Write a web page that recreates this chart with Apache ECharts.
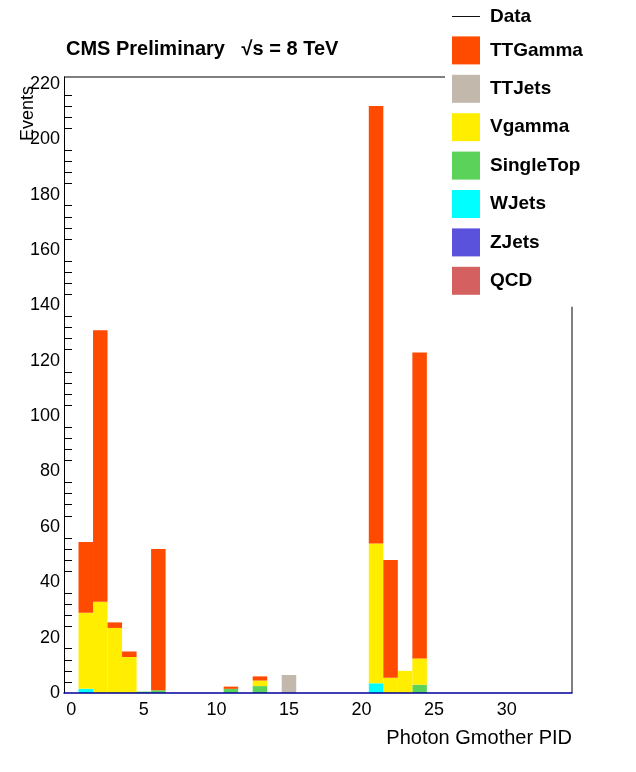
<!DOCTYPE html>
<html lang="en">
<head>
  <meta charset="UTF-8">
  <title>Photon Gmother PID</title>
  <script src="https://cdn.jsdelivr.net/npm/echarts@6/dist/echarts.min.js"></script>
  <style>
    html, body { margin: 0; padding: 0; background: #fff; }
    #chart { width: 636px; height: 772px; }
  </style>
</head>
<body>
  <div id="chart"></div>
  <script>
    // bins centred on 0..34, width 1
    const categories = Array.from({ length: 35 }, (_, i) => String(i));

    // sparse bin -> value, bottom of stack first
    const qcd       = {};
    const zjets     = {};
    const wjets     = { 1: 1.5, 21: 3.5 };
    const singleTop = { 5: 0.5, 6: 1, 11: 1.5, 13: 2.5, 24: 3 };
    const ttjets    = { 15: 6.5 };
    const vgamma    = { 1: 27.5, 2: 33, 3: 23.5, 4: 13, 13: 2, 21: 50.5, 22: 5.5, 23: 8, 24: 9.5 };
    const ttgamma   = { 1: 25.5, 2: 98, 3: 2, 4: 2, 6: 51, 11: 0.8, 13: 1.5, 21: 158, 22: 42.5, 24: 110.5 };

    const toBins = m => categories.map((_, i) => m[i] || 0);

    const stack = [
      ['QCD', qcd, '#d46060'],
      ['ZJets', zjets, '#5a52dd'],
      ['WJets', wjets, '#00ffff'],
      ['SingleTop', singleTop, '#5bd35b'],
      ['TTJets', ttjets, '#c2b8ab'],
      ['Vgamma', vgamma, '#ffee00'],
      ['TTGamma', ttgamma, '#ff4b00']
    ];

    const font = 'Liberation Sans, Arial, sans-serif';
    const chart = echarts.init(document.getElementById('chart'));

    const series = stack.map(([name, m, color]) => ({
      name, type: 'bar', stack: 'mc', data: toBins(m),
      barWidth: '100%', barCategoryGap: 0, z: 1,
      itemStyle: { color }, xAxisIndex: 0
    }));
    series.unshift({
      name: 'Data', type: 'line', data: [], symbol: 'none',
      lineStyle: { color: '#000', width: 1 }, itemStyle: { color: '#000' }
    });

    const tickLine = { color: '#000', width: 1 };

    chart.setOption({
      animation: false,
      title: {
        text: 'CMS Preliminary   \u221As = 8 TeV',
        left: 61, top: 34,
        textStyle: { fontFamily: font, fontSize: 20, fontWeight: 'bold', color: '#000' }
      },
      legend: {
        orient: 'vertical', left: 445, top: 0, z: 10,
        backgroundColor: '#fff',
        padding: [7, 50, 12, 7],
        itemWidth: 28, itemHeight: 28, itemGap: 10.4,
        data: [
          { name: 'Data', icon: 'path://M0,14 L30,14 L30,15 L0,15 Z' },
          'TTGamma', 'TTJets', 'Vgamma', 'SingleTop', 'WJets', 'ZJets', 'QCD'
        ].map(d => typeof d === 'string' ? { name: d, icon: 'rect' } : d),
        textStyle: { fontFamily: font, fontSize: 19, fontWeight: 'bold', color: '#000', padding: [0, 0, 0, 5] }
      },
      grid: { left: 64, right: 64, top: 77, bottom: 79 },
      xAxis: [
        {
          type: 'category', data: categories, z: 5,
          name: 'Photon Gmother PID', nameLocation: 'end',
          nameGap: 0,
          nameTextStyle: {
            fontFamily: font, fontSize: 20, color: '#000',
            align: 'right', verticalAlign: 'top', padding: [35, 0, 0, 0]
          },
          axisLine: { lineStyle: { color: '#000099', width: 1.5 } },
          axisTick: { inside: true, alignWithLabel: true, interval: 0, length: 9, lineStyle: tickLine },
          axisLabel: { interval: 4, fontFamily: font, fontSize: 18, color: '#000', margin: 8 },
          splitLine: { show: false }
        },
        {
          type: 'category', data: categories, position: 'bottom', z: 5,
          axisLine: { show: false },
          axisTick: { inside: true, alignWithLabel: true, interval: 4, length: 18, lineStyle: tickLine },
          axisLabel: { show: false }
        }
      ],
      yAxis: {
        type: 'value', min: 0, max: 222.5, interval: 20, z: 5,
        axisLine: { show: true, lineStyle: { color: '#000', width: 1 } },
        axisTick: { inside: true, length: 16, lineStyle: tickLine },
        minorTick: { show: true, splitNumber: 5, length: 8, lineStyle: tickLine },
        axisLabel: { fontFamily: font, fontSize: 18, color: '#000', margin: 4, showMaxLabel: false },
        splitLine: { show: false }
      },
      series,
      graphic: [
        { type: 'line', shape: { x1: 64, y1: 77, x2: 572, y2: 77 }, style: { stroke: '#000', lineWidth: 1 }, z: 1 },
        { type: 'line', shape: { x1: 572, y1: 77, x2: 572, y2: 693 }, style: { stroke: '#000', lineWidth: 1 }, z: 1 },
        {
          type: 'text', x: 19, y: 141, rotation: Math.PI / 2, z: 20,
          style: { text: 'Events', font: '18px ' + font, fill: '#000', textAlign: 'left', textVerticalAlign: 'top' }
        }
      ]
    });
  </script>
</body>
</html>
